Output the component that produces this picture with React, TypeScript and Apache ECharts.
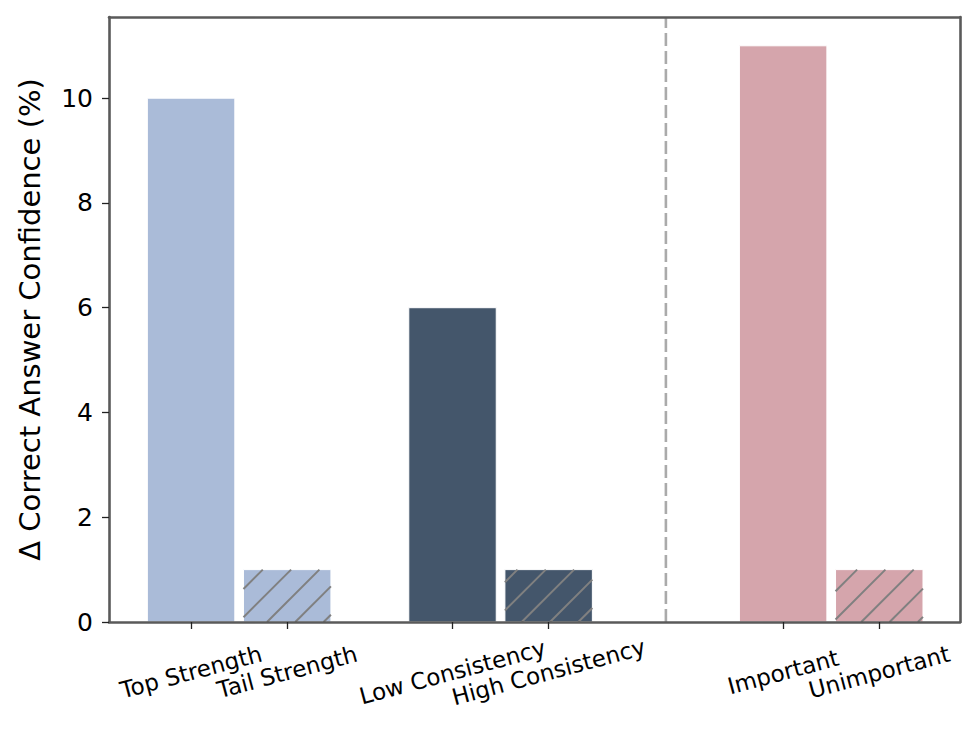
import React, { useEffect, useRef } from "react";
import * as echarts from "echarts";

// ---- data ----
const categories = [
  "Top Strength",
  "Tail Strength",
  "Low Consistency",
  "High Consistency",
  "Important",
  "Unimportant",
];
const values = [10, 1, 6, 1, 11, 1];
const hatched = [false, true, false, true, false, true];
const barColors = ["#aabbd8", "#aabbd8", "#44566b", "#44566b", "#d5a5ac", "#d5a5ac"];
const yTicks = [0, 2, 4, 6, 8, 10];

// ---- layout ----
const barPositions = [0, 1, 2.72, 3.72, 6.16, 7.16];
const separatorX = 4.94;
const X_MIN = -0.854;
const X_MAX = 8.0;
const Y_MAX = 11.55;
const BAR_W = 0.91;
const HATCH_SP = 28.3;
const HATCH_PHASE = 11.7;
const FONT = "DejaVu Sans";
const FRAME = "#5a5a5a";

export default function App() {
  const ref = useRef<HTMLDivElement>(null);
  useEffect(() => {
    if (!ref.current) return;
    const chart = echarts.init(ref.current, undefined, { renderer: "svg" });

    const renderItem = (params: any, api: any) => {
      const i = params.dataIndex;
      const x = api.value(0);
      const y = api.value(1);
      const p0 = api.coord([x - BAR_W / 2, y]);
      const p1 = api.coord([x + BAR_W / 2, 0]);
      const x0 = p0[0], y0 = p0[1], x1 = p1[0], y1 = p1[1];
      const children: any[] = [
        {
          type: "rect",
          shape: { x: x0, y: y0, width: x1 - x0, height: y1 - y0 },
          style: { fill: barColors[i], stroke: "#ffffff", lineWidth: 1 },
        },
      ];
      if (hatched[i]) {
        const cStart = Math.ceil((x0 + y0 - HATCH_PHASE) / HATCH_SP) * HATCH_SP + HATCH_PHASE;
        for (let c = cStart; c < x1 + y1; c += HATCH_SP) {
          const xa = Math.max(x0, c - y1);
          const xb = Math.min(x1, c - y0);
          if (xb <= xa) continue;
          children.push({
            type: "line",
            shape: { x1: xa, y1: c - xa, x2: xb, y2: c - xb },
            style: { stroke: "#808080", lineWidth: 2 },
          });
        }
      }
      return { type: "group", children };
    };

    const nearestName = (v: number) => {
      let best = 0;
      for (let k = 1; k < barPositions.length; k++) {
        if (Math.abs(barPositions[k] - v) < Math.abs(barPositions[best] - v)) best = k;
      }
      return categories[best];
    };

    const frameAxisLine = { show: true, lineStyle: { color: FRAME, width: 2.6 } };

    chart.setOption({
      animation: false,
      grid: { left: 109, right: 17, top: 17, bottom: 113 },
      xAxis: [
        {
          type: "value",
          min: X_MIN,
          max: X_MAX,
          z: 10,
          axisLine: { ...frameAxisLine, onZero: false },
          splitLine: { show: false },
          axisTick: {
            show: true,
            customValues: barPositions,
            length: 7,
            lineStyle: { color: "#222", width: 1.3 },
          },
          axisLabel: {
            customValues: barPositions,
            formatter: (v: number) => nearestName(v),
            rotate: 15,
            align: "center",
            verticalAlign: "middle",
            margin: 50,
            fontFamily: FONT,
            fontSize: 23,
            color: "#000",
          },
        },
        {
          type: "value",
          position: "top",
          min: X_MIN,
          max: X_MAX,
          z: 10,
          axisLine: { ...frameAxisLine, onZero: false },
          axisTick: { show: false },
          axisLabel: { show: false },
          splitLine: { show: false },
        },
      ],
      yAxis: [
        {
          type: "value",
          min: 0,
          max: Y_MAX,
          interval: 2,
          z: 10,
          axisLine: { ...frameAxisLine, onZero: false },
          splitLine: { show: false },
          axisTick: {
            show: true,
            customValues: yTicks,
            length: 7,
            lineStyle: { color: "#222", width: 1.3 },
          },
          axisLabel: {
            customValues: yTicks,
            margin: 16,
            fontFamily: FONT,
            fontSize: 25,
            color: "#000",
          },
          name: "Δ Correct Answer Confidence (%)",
          nameLocation: "middle",
          nameGap: 65,
          nameTextStyle: { fontFamily: FONT, fontSize: 29, color: "#000" },
        },
        {
          type: "value",
          position: "right",
          min: 0,
          max: Y_MAX,
          z: 10,
          axisLine: { ...frameAxisLine, onZero: false },
          axisTick: { show: false },
          axisLabel: { show: false },
          splitLine: { show: false },
        },
      ],
      series: [
        {
          type: "line",
          xAxisIndex: 0,
          yAxisIndex: 0,
          data: [
            [separatorX, 0],
            [separatorX, Y_MAX],
          ],
          symbol: "none",
          lineStyle: { color: "#aaaaaa", width: 2.6, type: [13, 5] },
          z: 1,
          silent: true,
        },
        {
          type: "custom",
          xAxisIndex: 0,
          yAxisIndex: 0,
          renderItem,
          encode: { x: 0, y: 1 },
          data: values.map((v, i) => [barPositions[i], v]),
          z: 2,
        },
      ],
    });
    return () => chart.dispose();
  }, []);
  return (
    <div
      ref={ref}
      style={{ position: "fixed", left: 0, top: 0, width: 977, height: 735, background: "#fff" }}
    />
  );
}
